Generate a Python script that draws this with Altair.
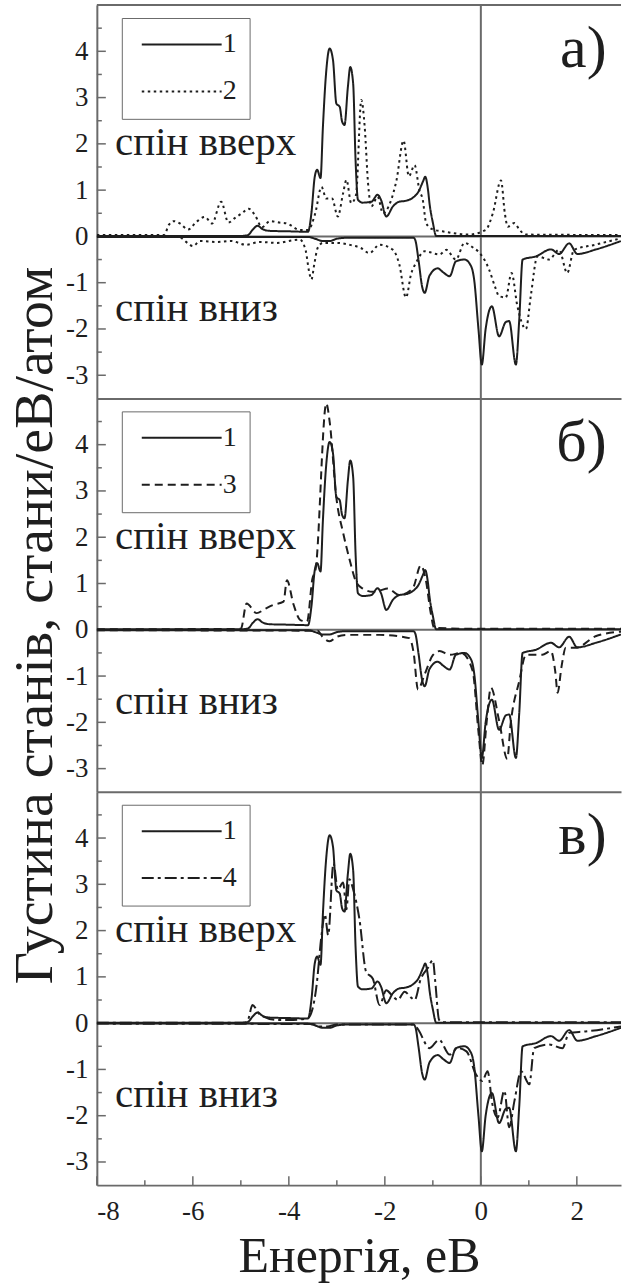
import altair as alt
import pandas as pd

# ---------------- data ----------------
# curve 1 (solid) - shown in every panel
c1_up_E = [-8.0, -5.0, -4.85, -4.75, -4.65, -4.55, -4.4, -4.0, -3.6, -3.53, -3.46, -3.41, -3.34, -3.29, -3.23,
           -3.15, -3.08, -3.01, -2.94, -2.89, -2.84, -2.77, -2.72, -2.66, -2.61, -2.56, -2.46, -2.28, -2.15,
           -2.08, -1.97, -1.83, -1.7, -1.56, -1.4, -1.31, -1.2, -1.16, -1.1, -1.07, -1.0, -0.93, 0.0, 2.92]
c1_up_D = [0.01, 0.01, 0.03, 0.15, 0.23, 0.16, 0.12, 0.11, 0.1, 0.5, 1.29, 1.44, 1.26, 2.37, 3.45,
           4.06, 3.81, 2.87, 2.8, 2.48, 2.41, 3.23, 3.66, 3.3, 1.65, 0.79, 0.73, 0.75, 0.9,
           0.79, 0.43, 0.65, 0.75, 0.77, 0.85, 0.95, 1.2, 1.29, 1.0, 0.72, 0.3, 0.01, 0.01, 0.01]
c1_dn_E = [-8.0, -3.6, -3.45, -3.3, -3.15, -3.0, -2.8, -1.4, -1.36, -1.3, -1.22, -1.17, -1.07, -0.9, -0.78,
           -0.65, -0.52, -0.34, -0.2, -0.14, -0.05, 0.02, 0.1, 0.23, 0.38, 0.52, 0.59, 0.73, 0.8, 0.87,
           1.15, 1.46, 1.63, 1.84, 2.01, 2.4, 2.92]
c1_dn_D = [-0.01, -0.01, -0.05, -0.1, -0.1, -0.05, -0.03, -0.03, -0.1, -0.5, -1.1, -1.22, -0.85, -0.69, -0.78,
           -0.86, -0.54, -0.5, -0.65, -0.93, -2.0, -2.77, -2.0, -1.51, -2.16, -1.85, -1.83, -2.77, -1.8, -0.5,
           -0.43, -0.28, -0.38, -0.15, -0.38, -0.28, -0.1]

# curve 2 (dotted) - panel a
c2_up_E = [-8.0, -6.6, -6.5, -6.4, -6.27, -6.1, -5.92, -5.75, -5.6, -5.41, -5.26, -5.12, -4.98, -4.84, -4.7,
           -4.56, -4.39, -4.2, -4.04, -3.77, -3.6, -3.45, -3.32, -3.22, -3.1, -2.98, -2.87, -2.8, -2.7, -2.6,
           -2.49, -2.42, -2.35, -2.28, -2.15, -2.04, -1.9, -1.76, -1.61, -1.5, -1.38, -1.28, -1.21, -1.14,
           -1.0, -0.8, -0.25, 0.1, 0.25, 0.42, 0.5, 0.56, 0.7, 0.8, 0.94, 2.92]
c2_up_D = [0.03, 0.03, 0.25, 0.33, 0.28, 0.15, 0.32, 0.42, 0.28, 0.75, 0.3, 0.4, 0.5, 0.6, 0.45,
           0.2, 0.33, 0.3, 0.28, 0.14, 0.14, 0.5, 1.07, 0.82, 0.82, 0.43, 0.93, 1.22, 0.72, 0.9,
           2.95, 2.37, 1.15, 0.65, 0.86, 0.5, 0.7, 1.2, 2.07, 1.3, 1.54, 1.0, 0.79, 0.29,
           0.15, 0.11, 0.04, 0.14, 0.5, 1.21, 0.5, 0.21, 0.29, 0.15, 0.04, 0.03]
c2_dn_E = [-8.0, -6.3, -6.1, -6.0, -5.85, -5.5, -5.2, -4.9, -4.6, -4.25, -3.9, -3.77, -3.65, -3.58, -3.53,
           -3.47, -3.4, -3.29, -3.0, -2.74, -2.5, -2.32, -2.11, -1.83, -1.7, -1.56, -1.45, -1.35, -1.17,
           -0.86, -0.72, -0.52, -0.34, -0.15, -0.06, 0.17, 0.3, 0.38, 0.52, 0.64, 0.76, 0.94, 1.04, 1.18,
           1.42, 1.63, 1.8, 1.94, 2.38, 2.92]
c2_dn_D = [-0.01, -0.01, -0.15, -0.21, -0.1, -0.12, -0.1, -0.18, -0.12, -0.14, -0.08, -0.07, -0.3, -0.75, -0.93,
           -0.6, -0.25, -0.14, -0.14, -0.18, -0.25, -0.36, -0.18, -0.29, -0.6, -1.32, -0.8, -0.57, -0.32,
           -0.39, -0.29, -0.5, -0.14, -0.25, -0.32, -0.71, -1.1, -1.29, -1.32, -0.79, -1.5, -2.0, -1.29, -0.43,
           -0.5, -0.29, -0.79, -0.29, -0.18, -0.04]

# curve 3 (dashed) - panel b
c3_up_E = [-8.0, -5.0, -4.88, -4.67, -4.5, -4.32, -4.11, -4.04, -3.9, -3.76, -3.62, -3.51, -3.44, -3.22,
           -3.15, -3.01, -2.87, -2.74, -2.6, -2.46, -2.25, -2.1, -1.94, -1.7, -1.42, -1.25, -1.14, -1.05,
           -0.97, 0.0, 2.92]
c3_up_D = [0.01, 0.02, 0.57, 0.36, 0.45, 0.54, 0.61, 1.07, 0.54, 0.21, 0.18, 1.1, 1.32, 4.89,
           4.5, 2.85, 2.1, 1.54, 1.04, 0.89, 0.82, 0.85, 0.89, 0.75, 0.89, 1.39, 1.04, 0.4,
           0.04, 0.02, 0.02]
c3_dn_E = [-8.0, -3.4, -3.3, -3.15, -3.0, -2.8, -2.11, -1.49, -1.4, -1.31, -1.17, -1.0, -0.86, -0.65, -0.41,
           -0.17, -0.05, 0.03, 0.12, 0.21, 0.38, 0.55, 0.62, 0.8, 0.94, 1.28, 1.46, 1.55, 1.6, 1.68, 1.77,
           1.98, 2.39, 2.92]
c3_dn_D = [-0.01, -0.02, -0.15, -0.25, -0.15, -0.11, -0.11, -0.18, -0.5, -1.29, -0.96, -0.55, -0.46, -0.54, -0.5,
           -0.89, -2.2, -2.93, -2.0, -1.25, -1.96, -2.79, -2.04, -1.11, -0.54, -0.54, -0.46, -0.9, -1.36, -0.8, -0.39,
           -0.39, -0.14, -0.04]

# curve 4 (dash-dot) - panel c
c4_up_E = [-8.0, -4.9, -4.84, -4.76, -4.6, -4.26, -3.91, -3.6, -3.43, -3.32, -3.25, -3.18, -3.07, -2.98,
           -2.87, -2.8, -2.74, -2.66, -2.53, -2.39, -2.25, -2.11, -1.97, -1.85, -1.73, -1.59, -1.45, -1.38,
           -1.25, -1.1, -1.0, -0.95, -0.87, -0.8, 2.92]
c4_up_D = [0.01, 0.01, 0.1, 0.39, 0.18, 0.07, 0.07, 0.11, 0.75, 1.89, 2.35, 1.9, 3.46, 2.89,
           3.04, 2.46, 3.11, 2.89, 2.25, 1.11, 0.96, 0.39, 0.71, 0.6, 0.5, 0.68, 0.55, 0.5,
           0.96, 1.2, 1.36, 0.9, 0.07, 0.02, 0.02]
c4_dn_E = [-8.0, -3.5, -3.35, -3.2, -3.0, -1.42, -1.28, -1.15, -1.07, -0.87, -0.65, -0.48, -0.3, -0.1, 0.03,
           0.14, 0.24, 0.35, 0.49, 0.59, 0.7, 0.84, 1.01, 1.11, 1.42, 1.7, 1.84, 2.18, 2.92]
c4_dn_D = [-0.01, -0.02, -0.07, -0.07, -0.03, -0.03, -0.18, -0.45, -0.54, -0.36, -0.68, -0.54, -0.61, -1.11, -1.25,
           -1.04, -1.75, -2.04, -1.46, -2.25, -1.68, -1.04, -1.32, -0.54, -0.46, -0.54, -0.21, -0.18, -0.07]

panel_labels = ["а)", "б)", "в)"]
partner_curves = ["2", "3", "4"]
spin_texts = ["спін вверх", "спін вниз"]
y_major = [-3, -2, -1, 0, 1, 2, 3, 4]
y_minor = [-2.5, -1.5, -0.5, 0.5, 1.5, 2.5, 3.5, 4.5]
x_major = [-8, -6, -4, -2, 0, 2]
x_minor = [-7, -5, -3, -1, 1]
x_domain = [-8, 2.92]
y_domain = [-3.5, 5]
zero_value = [0]

x_title = "Енергія, еВ"
y_title = "Густина станів, стани/еВ/атом"

# ---------------- styling ----------------
FONT = "Liberation Serif, Times New Roman, DejaVu Serif, serif"
INK = "#1e1e1e"
GRAY = "#6a6a6a"
W, H = 525, 394
xs = alt.Scale(domain=x_domain, nice=False, zero=False)
ys = alt.Scale(domain=y_domain, nice=False, zero=False)
dash_of = {"1": [1, 0], "2": [2.5, 3.5], "3": [8, 5], "4": [12, 4, 3, 4]}

series = {
    "1": (c1_up_E, c1_up_D, c1_dn_E, c1_dn_D),
    "2": (c2_up_E, c2_up_D, c2_dn_E, c2_dn_D),
    "3": (c3_up_E, c3_up_D, c3_dn_E, c3_dn_D),
    "4": (c4_up_E, c4_up_D, c4_dn_E, c4_dn_D),
}


def curve_frame(name):
    ue, ud, de, dd = series[name]
    a = pd.DataFrame({"E": ue, "D": ud, "curve": name, "part": name + "up"})
    b = pd.DataFrame({"E": de, "D": dd, "curve": name, "part": name + "dn"})
    return pd.concat([a, b], ignore_index=True)


def panel(i):
    other = partner_curves[i]
    df = pd.concat([curve_frame("1"), curve_frame(other)], ignore_index=True)
    first, last = i == 0, i == 2

    if last:
        x_axis = alt.Axis(values=x_major, labelExpr="'' + datum.value", ticks=False, domain=True,
                          domainColor=GRAY, domainWidth=2, grid=False, labelFont=FONT, labelFontSize=27,
                          labelColor=INK, labelPadding=13, title=x_title, titleFont=FONT, titleFontSize=50,
                          titleFontWeight="normal", titleColor=INK, titlePadding=8)
    else:
        x_axis = alt.Axis(labels=False, ticks=False, domain=True, domainColor=GRAY, domainWidth=2,
                          grid=False, title=None)
    y_kw = dict(values=y_major, labelExpr="'' + datum.value", ticks=False, domain=True, domainColor=GRAY,
                domainWidth=2, grid=False, labelFont=FONT, labelFontSize=27, labelColor=INK, labelPadding=9)
    if i == 1:
        y_axis = alt.Axis(title=y_title, titleFont=FONT, titleFontSize=56, titleFontWeight="normal",
                          titleColor=INK, titlePadding=2, titleY=227, **y_kw)
    else:
        y_axis = alt.Axis(title=None, **y_kw)

    X = lambda f: alt.X(f, scale=xs, axis=x_axis)
    Y = lambda f: alt.Y(f, scale=ys, axis=y_axis)

    legend = alt.Legend(orient="none", legendX=25, legendY=13, title=None, symbolType="stroke",
                        symbolSize=6400, symbolStrokeWidth=2, symbolStrokeColor=INK, clipHeight=27,
                        rowPadding=18, labelFont=FONT, labelFontSize=28, labelColor=INK, labelOffset=0,
                        symbolOffset=6, padding=13, strokeColor=GRAY, fillColor="white")

    names = ["1", other]
    curves = alt.Chart(df).mark_line(color=INK, strokeWidth=2, interpolate="monotone", clip=True).encode(
        x=X("E:Q"), y=Y("D:Q"),
        strokeDash=alt.StrokeDash("curve:N", scale=alt.Scale(domain=names, range=[dash_of[n] for n in names]),
                                  legend=legend),
        detail="part:N",
    )

    zeros = pd.DataFrame({"v": zero_value})
    hline = alt.Chart(zeros).mark_rule(color=GRAY, strokeWidth=2).encode(y=Y("v:Q"))
    vline = alt.Chart(zeros).mark_rule(color=GRAY, strokeWidth=2).encode(x=X("v:Q"))

    ymaj = alt.Chart(pd.DataFrame({"t": y_major})).mark_rule(color=GRAY, strokeWidth=1.5).encode(
        y=Y("t:Q"), x=alt.value(0), x2=alt.value(9))
    ymin = alt.Chart(pd.DataFrame({"t": y_minor})).mark_rule(color=GRAY, strokeWidth=1.5).encode(
        y=Y("t:Q"), x=alt.value(0), x2=alt.value(5))

    spin = alt.Chart(pd.DataFrame({"E": [-7.62, -7.62], "D": [1.75, -1.82], "s": spin_texts})).mark_text(
        align="left", baseline="alphabetic", font=FONT, fontSize=41, color=INK).encode(
        x=X("E:Q"), y=Y("D:Q"), text="s:N")
    lab = alt.Chart(pd.DataFrame({"E": [2.62], "D": [3.65], "s": [panel_labels[i]]})).mark_text(
        align="right", baseline="alphabetic", font=FONT, fontSize=60, color=INK).encode(
        x=X("E:Q"), y=Y("D:Q"), text="s:N")

    layers = [hline, vline, ymaj, ymin, curves, spin, lab]
    if first:
        top = alt.Chart(pd.DataFrame({"v": [y_domain[1]]})).mark_rule(color=GRAY, strokeWidth=2).encode(
            y=Y("v:Q"))
        layers.append(top)
    if last:
        xmaj = alt.Chart(pd.DataFrame({"t": x_major})).mark_rule(color=GRAY, strokeWidth=1.5).encode(
            x=X("t:Q"), y=alt.value(H), y2=alt.value(H - 9))
        xmin = alt.Chart(pd.DataFrame({"t": x_minor})).mark_rule(color=GRAY, strokeWidth=1.5).encode(
            x=X("t:Q"), y=alt.value(H), y2=alt.value(H - 5))
        layers += [xmaj, xmin]
    return alt.layer(*layers).properties(width=W, height=H)


chart = alt.vconcat(panel(0), panel(1), panel(2), spacing=0, bounds="flush").resolve_scale(
    strokeDash="independent").resolve_legend(strokeDash="independent").properties(
    padding={"left": 6, "top": 3, "right": 0, "bottom": 0}, background="white"
).configure(font=FONT).configure_view(stroke=None).configure_axis(
    labelFont=FONT, titleFont=FONT
).configure_legend(labelFont=FONT)

chart.save("out.html", embed_options={"renderer": "svg", "actions": False})
